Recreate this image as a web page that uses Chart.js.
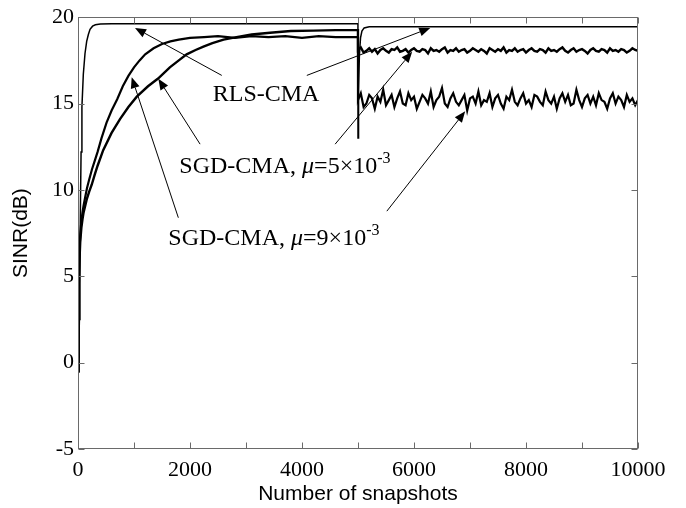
<!DOCTYPE html>
<html>
<head>
<meta charset="utf-8">
<script src="https://cdn.jsdelivr.net/npm/chart.js@4.4.0/dist/chart.umd.min.js"></script>
<style>
  html, body { margin: 0; padding: 0; background: #fff; }
</style>
</head>
<body>
<canvas id="sinrChart" width="686" height="508"></canvas>
<script>
// ---- data ----
const xTicks = [0, 1000, 2000, 3000, 4000, 5000, 6000, 7000, 8000, 9000, 10000];
const yTicks = [-5, 0, 5, 10, 15, 20];

// RLS-CMA
const rlsX = [0, 15, 25, 35, 45, 55, 70, 95, 125, 155, 185, 215, 260, 310, 400, 600, 1000, 2000, 3000, 4000, 4999,
  5000, 5010, 5025, 5045, 5070, 5110, 5200, 6000, 7000, 8000, 9000, 10000];
const rlsY = [0.3, 1.0, 2.5, 6.0, 9.5, 12.2, 14.8, 16.7, 17.9, 18.6, 19.0, 19.3, 19.48, 19.56, 19.6, 19.62, 19.62, 19.62, 19.62, 19.62, 19.62,
  13.0, 15.8, 17.8, 18.8, 19.2, 19.38, 19.45, 19.45, 19.45, 19.45, 19.45, 19.45];

// SGD-CMA, mu = 5e-3 (slower), first 5000 snapshots
const slowX = [0, 8, 15, 25, 40, 60, 80, 100, 130, 160, 200, 245, 300, 350, 450, 600, 750, 900, 1050, 1250, 1430,
  1640, 1800, 1940, 2100, 2240, 2400, 2600, 2830, 3100, 3430, 3800, 4200, 4600, 4999];
const slowY = [-0.5, 2.3, 4.2, 5.8, 7.0, 7.8, 8.3, 8.7, 9.1, 9.5, 9.9, 10.3, 10.9, 11.4, 12.3, 13.3, 14.1, 14.8, 15.4, 16.0, 16.45,
  17.1, 17.5, 17.85, 18.1, 18.3, 18.5, 18.7, 18.85, 19.0, 19.1, 19.2, 19.22, 19.25, 19.25];
// after the change at 5000, one reading every 50 snapshots
const slowPostY = [18.1, 18.25, 17.95, 18.05, 18.2, 18.0, 18.15, 17.9, 18.1, 18.2,
  18.05, 17.95, 18.15, 18.1, 18.25, 18.0, 18.05, 18.15, 17.95, 18.1,
  18.2, 18.05, 18.0, 18.15, 18.1, 17.9, 18.2, 18.05, 18.1, 18.0,
  18.15, 18.25, 17.95, 18.1, 18.05, 18.2, 18.0, 18.1, 18.15, 17.95,
  18.05, 18.2, 18.1, 18.0, 18.15, 18.05, 17.9, 18.2, 18.1, 18.0,
  18.15, 18.05, 18.25, 17.95, 18.1, 18.05, 18.2, 18.0, 18.1, 18.15,
  17.95, 18.1, 18.2, 18.05, 18.0, 18.15, 18.1, 17.95, 18.2, 18.05,
  18.1, 18.0, 18.15, 18.25, 18.05, 17.95, 18.1, 18.2, 18.0, 18.1,
  18.15, 18.05, 17.9, 18.1, 18.2, 18.05, 18.0, 18.15, 18.1, 17.95,
  18.2, 18.05, 18.1, 18.0, 18.15, 18.1, 17.95, 18.05, 18.2, 18.1, 18.05];

// SGD-CMA, mu = 9e-3 (faster), first 5000 snapshots
const fastX = [0, 8, 15, 25, 40, 60, 80, 100, 130, 160, 200, 250, 300, 350, 420, 510, 600, 700, 800, 900, 1000,
  1100, 1200, 1350, 1500, 1650, 1800, 2000, 2250, 2500, 2800, 3100, 3400, 3700, 4000, 4300, 4600, 4999];
const fastY = [-0.5, 2.5, 4.5, 6.2, 7.4, 8.2, 8.7, 9.1, 9.6, 10.1, 10.6, 11.2, 11.7, 12.2, 13.0, 13.9, 14.6, 15.25, 16.0, 16.6, 17.1,
  17.5, 17.85, 18.2, 18.45, 18.6, 18.7, 18.8, 18.85, 18.9, 18.8, 18.9, 18.85, 18.9, 18.8, 18.9, 18.85, 18.85];
// after the change at 5000, one reading every 50 snapshots
const fastPostY = [15.2, 15.6, 14.8, 15.0, 15.5, 15.3, 14.7, 15.4, 15.1, 15.8,
  14.9, 15.2, 15.5, 14.8, 15.3, 15.7, 15.0, 14.9, 15.6, 15.2,
  15.4, 14.7, 15.1, 15.5, 15.3, 15.0, 15.7, 14.8, 15.2, 15.4,
  15.9, 15.0, 14.8, 15.3, 15.6, 15.1, 14.9, 15.2, 15.5, 14.6,
  15.3, 15.4, 15.0, 15.7, 14.9, 15.2, 15.1, 15.6, 14.8, 15.3,
  15.5, 15.0, 14.7, 15.4, 15.2, 15.8, 15.1, 14.9, 15.3, 15.6,
  15.0, 15.2, 14.8, 15.5, 15.4, 15.1, 14.9, 15.7, 15.2, 15.0,
  15.4, 14.7, 15.3, 15.6, 15.1, 15.5, 14.9, 15.0, 15.8, 15.2,
  14.8, 15.3, 15.5, 15.0, 15.4, 14.9, 15.6, 15.2, 15.1, 14.7,
  15.3, 15.6, 15.0, 15.4, 15.2, 14.8, 15.5, 15.1, 15.3, 14.9, 15.2];

const changeAt = 5000;

// annotation text and arrows (in data units)
const noteLabels = [
  { x: 2406, y: 15.15, parts: [['RLS-CMA', 'n']] },
  { x: 1810, y: 10.97, parts: [['SGD-CMA, ', 'n'], ['\u03bc', 'i'], ['=5\u00d710', 'n'], ['-3', 's']] },
  { x: 1613, y: 6.82, parts: [['SGD-CMA, ', 'n'], ['\u03bc', 'i'], ['=9\u00d710', 'n'], ['-3', 's']] }
];
const noteArrows = [
  [[2567, 16.63], [1018, 19.38]],
  [[4086, 16.63], [6290, 19.38]],
  [[2180, 12.65], [1435, 16.44]],
  [[4592, 12.65], [5967, 18.0]],
  [[1792, 8.39], [959, 16.53]],
  [[5515, 8.77], [6914, 14.55]]
];

// ---- build points ----
function toPoints(xs, ys) {
  return xs.map((x, i) => ({ x: x, y: ys[i] }));
}
function postPoints(ys, step) {
  return ys.map((y, i) => ({ x: changeAt + i * step, y: y }));
}

const rlsData = toPoints(rlsX, rlsY);
const slowData = toPoints(slowX, slowY).concat(postPoints(slowPostY, 50));
const fastData = toPoints(fastX, fastY).concat(postPoints(fastPostY, 50));

const serif = 'Liberation Serif';
const sans = 'Liberation Sans';
const axisGrey = '#6a6a6a';

// frame, inward ticks and the arrow notes
const frameAndNotes = {
  id: 'frameAndNotes',
  afterDraw(chart) {
    const { ctx, chartArea: a, scales: { x, y } } = chart;
    ctx.save();
    ctx.strokeStyle = axisGrey;
    ctx.lineWidth = 1;
    const L = Math.round(a.left) + 0.5, R = Math.round(a.right) - 0.5;
    const T = Math.round(a.top) + 0.5, B = Math.round(a.bottom) - 0.5;
    ctx.strokeRect(L, T, R - L, B - T);
    ctx.beginPath();
    xTicks.forEach(v => {
      const px = Math.round(x.getPixelForValue(v)) + 0.5;
      ctx.moveTo(px, B); ctx.lineTo(px, B - 6);
      ctx.moveTo(px, T); ctx.lineTo(px, T + 6);
    });
    yTicks.forEach(v => {
      const py = Math.round(y.getPixelForValue(v)) + 0.5;
      ctx.moveTo(L, py); ctx.lineTo(L + 6, py);
      ctx.moveTo(R, py); ctx.lineTo(R - 6, py);
    });
    ctx.stroke();

    // arrows
    ctx.strokeStyle = '#000';
    ctx.fillStyle = '#000';
    noteArrows.forEach(([from, to]) => {
      const x0 = x.getPixelForValue(from[0]), y0 = y.getPixelForValue(from[1]);
      const x1 = x.getPixelForValue(to[0]), y1 = y.getPixelForValue(to[1]);
      const ang = Math.atan2(y1 - y0, x1 - x0);
      const len = 11, half = 4.5;
      const bx = x1 - len * Math.cos(ang), by = y1 - len * Math.sin(ang);
      ctx.beginPath();
      ctx.moveTo(x0, y0); ctx.lineTo(bx, by);
      ctx.stroke();
      ctx.beginPath();
      ctx.moveTo(x1, y1);
      ctx.lineTo(bx + half * Math.sin(ang), by - half * Math.cos(ang));
      ctx.lineTo(bx - half * Math.sin(ang), by + half * Math.cos(ang));
      ctx.closePath();
      ctx.fill();
    });

    // labels
    ctx.textBaseline = 'alphabetic';
    ctx.textAlign = 'left';
    noteLabels.forEach(n => {
      let px = x.getPixelForValue(n.x);
      const py = y.getPixelForValue(n.y);
      n.parts.forEach(([t, kind]) => {
        if (kind === 'i') ctx.font = 'italic 24px "' + serif + '"';
        else if (kind === 's') ctx.font = '16px "' + serif + '"';
        else ctx.font = '24px "' + serif + '"';
        ctx.fillText(t, px, kind === 's' ? py - 10 : py);
        px += ctx.measureText(t).width;
      });
    });
    ctx.restore();
  }
};

const ctx = document.getElementById('sinrChart').getContext('2d');
const sinrChart = new Chart(ctx, {
  type: 'line',
  data: {
    datasets: [
      { label: 'RLS-CMA', data: rlsData, borderColor: '#000', borderWidth: 1.5 },
      { label: 'SGD-CMA mu=5e-3', data: slowData, borderColor: '#000', borderWidth: 2.4 },
      { label: 'SGD-CMA mu=9e-3', data: fastData, borderColor: '#000', borderWidth: 2.2 }
    ]
  },
  options: {
    responsive: false,
    animation: false,
    parsing: false,
    layout: { padding: { left: 0, right: 48, top: 9, bottom: 0 } },
    elements: { point: { radius: 0 }, line: { tension: 0 } },
    plugins: { legend: { display: false }, tooltip: { enabled: false } },
    scales: {
      x: {
        type: 'linear',
        min: 0,
        max: 10000,
        afterFit(s) { s.height = 59; },
        grid: { display: false, drawTicks: false },
        border: { display: false },
        ticks: {
          stepSize: 1000,
          autoSkip: false,
          maxRotation: 0,
          padding: 8,
          color: '#000',
          font: { family: serif, size: 22 },
          callback: v => (v % 2000 === 0 ? String(v) : '')
        },
        title: {
          display: true,
          text: 'Number of snapshots',
          color: '#000',
          font: { family: sans, size: 21, lineHeight: 1 },
          padding: { top: 0, bottom: 3 }
        }
      },
      y: {
        type: 'linear',
        min: -5,
        max: 20,
        afterFit(s) { s.width = 78; },
        grid: { display: false, drawTicks: false },
        border: { display: false },
        ticks: {
          stepSize: 5,
          padding: 4,
          color: '#000',
          font: { family: serif, size: 22 },
          callback: v => String(v)
        },
        title: {
          display: true,
          text: 'SINR(dB)',
          color: '#000',
          font: { family: sans, size: 21, lineHeight: 1 },
          padding: { top: 11, bottom: 0 }
        }
      }
    }
  },
  plugins: [frameAndNotes]
});
</script>
</body>
</html>
